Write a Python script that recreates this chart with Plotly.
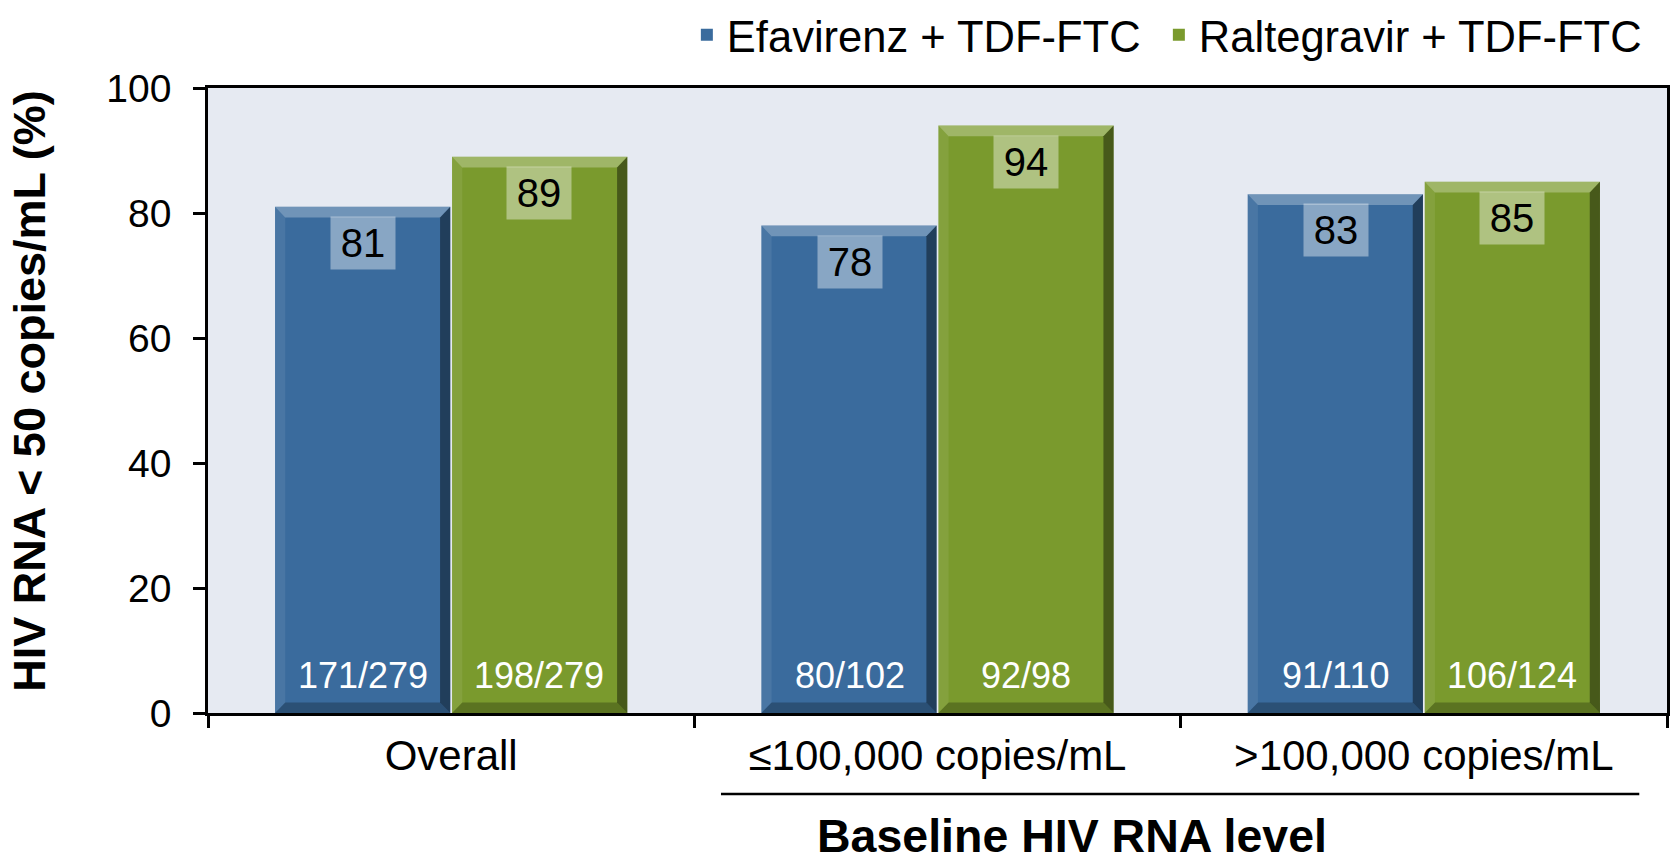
import plotly.graph_objects as go

categories = ["Overall", "≤100,000 copies/mL", ">100,000 copies/mL"]
series_names = ["Efavirenz + TDF-FTC", "Raltegravir + TDF-FTC"]
efv_values = [81, 78, 83]
ral_values = [89, 94, 85]
efv_counts = ["171/279", "80/102", "91/110"]
ral_counts = ["198/279", "92/98", "106/124"]
y_ticks = [0, 20, 40, 60, 80, 100]

BLUE = "#3a6b9d"
GREEN = "#7a9a2d"
FONT = "Liberation Sans, Arial, sans-serif"
BARGAP = 0.272
GROUPGAP = 0.01

fig = go.Figure()
fig.add_trace(go.Bar(name=series_names[0], x=categories, y=efv_values, legend="legend",
                     marker=dict(color=BLUE, line=dict(width=0))))
fig.add_trace(go.Bar(name=series_names[1], x=categories, y=ral_values, legend="legend2",
                     marker=dict(color=GREEN, line=dict(width=0))))

# bevel overlays derived from the bar geometry (data coordinates)
slot = (1 - BARGAP) / 2
half_w = slot * (1 - GROUPGAP) / 2
tx = 0.021   # bevel thickness in category units
ty = 1.7     # bevel thickness in y units


def path(pts):
    return "M " + " L ".join(f"{px},{py}" for px, py in pts) + " Z"


shapes = []
for series, vals in enumerate([efv_values, ral_values]):
    off = -slot / 2 if series == 0 else slot / 2
    for i, v in enumerate(vals):
        x0, x1 = i + off - half_w, i + off + half_w
        y0, y1 = 0, v
        shapes.append(dict(type="path", xref="x", yref="y", layer="above", line=dict(width=0),
                           fillcolor="rgba(255,255,255,0.28)",
                           path=path([(x0, y1), (x1, y1), (x1 - tx, y1 - ty), (x0 + tx, y1 - ty)])))
        shapes.append(dict(type="path", xref="x", yref="y", layer="above", line=dict(width=0),
                           fillcolor="rgba(0,0,0,0.42)",
                           path=path([(x1, y1), (x1, y0), (x1 - tx, y0 + ty), (x1 - tx, y1 - ty)])))
        shapes.append(dict(type="path", xref="x", yref="y", layer="above", line=dict(width=0),
                           fillcolor="rgba(0,0,0,0.25)",
                           path=path([(x0, y0), (x1, y0), (x1 - tx, y0 + ty), (x0 + tx, y0 + ty)])))
        shapes.append(dict(type="path", xref="x", yref="y", layer="above", line=dict(width=0),
                           fillcolor="rgba(255,255,255,0.08)",
                           path=path([(x0, y0), (x0, y1), (x0 + tx, y1 - ty), (x0 + tx, y0 + ty)])))

annotations = []
for series, (vals, counts) in enumerate([(efv_values, efv_counts), (ral_values, ral_counts)]):
    shift = -88 if series == 0 else 88
    for cat, v, c in zip(categories, vals, counts):
        annotations.append(dict(x=cat, y=v, xref="x", yref="y", xshift=shift, yshift=-9,
                                yanchor="top", text=str(v), showarrow=False,
                                font=dict(family=FONT, size=40, color="black"),
                                bgcolor="rgba(255,255,255,0.4)", width=56, borderpad=4))
        annotations.append(dict(x=cat, y=0, xref="x", yref="y", xshift=shift, yshift=38,
                                yanchor="middle", text=c, showarrow=False,
                                font=dict(family=FONT, size=36, color="white")))

annotations.append(dict(x=0.592, y=-0.197, xref="paper", yref="paper",
                        text="<b>Baseline HIV RNA level</b>", showarrow=False,
                        xanchor="center", yanchor="middle",
                        font=dict(family=FONT, size=46.5, color="black")))
annotations.append(dict(x=-0.122, y=0.514, xref="paper", yref="paper",
                        text="<b>HIV RNA < 50 copies/mL (%)</b>", showarrow=False,
                        textangle=-90, xanchor="center", yanchor="middle",
                        font=dict(family=FONT, size=45, color="black")))

shapes.append(dict(type="line", xref="paper", yref="paper", x0=0.3516, x1=0.981,
                   y0=-0.1296, y1=-0.1296, line=dict(color="black", width=2.5)))

legend_style = dict(orientation="h", xref="container", yref="container", xanchor="left",
                    y=1.0, yanchor="top", font=dict(family=FONT, size=43.5),
                    bgcolor="rgba(0,0,0,0)")

fig.update_layout(
    width=1672, height=861,
    margin=dict(l=208, r=5, t=88, b=148, autoexpand=False),
    paper_bgcolor="white", plot_bgcolor="#e6eaf2",
    barmode="group", bargap=BARGAP, bargroupgap=GROUPGAP,
    font=dict(family=FONT, color="black"),
    showlegend=True,
    legend=dict(x=0.4108, **legend_style),
    legend2=dict(x=0.6931, **legend_style),
    annotations=annotations,
    shapes=shapes,
)
fig.update_xaxes(showline=True, linecolor="black", linewidth=2.5, mirror=True,
                 ticks="outside", ticklen=12, tickwidth=2.5, tickcolor="black",
                 tickson="boundaries", tickfont=dict(family=FONT, size=42),
                 ticklabelstandoff=4, showgrid=False, automargin=False)
fig.update_yaxes(range=[0, 100], tickvals=y_ticks, showline=True, linecolor="black",
                 linewidth=2.5, mirror=True, ticks="outside", ticklen=12, tickwidth=2.5,
                 tickcolor="black", tickfont=dict(family=FONT, size=39),
                 ticklabelstandoff=14, showgrid=False, zeroline=False, automargin=False)

fig.write_html("out.html", config={"displayModeBar": False},
               post_script="document.body.style.margin='0';document.body.style.overflow='hidden';")
